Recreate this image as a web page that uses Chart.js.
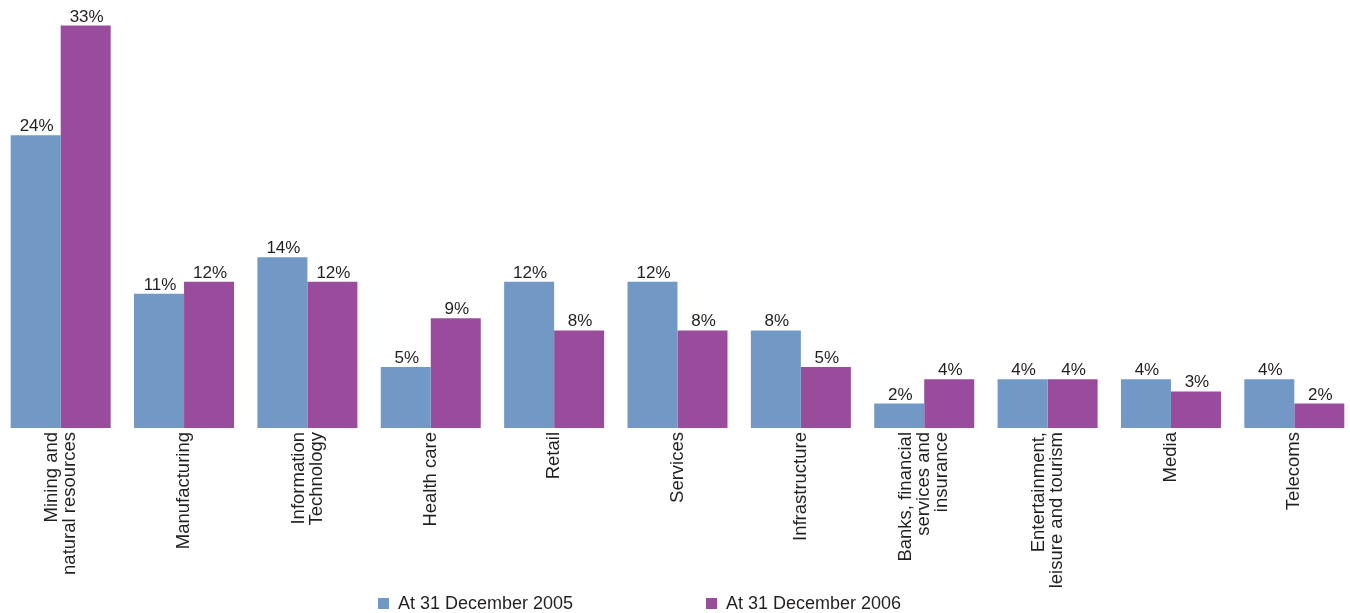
<!DOCTYPE html>
<html>
<head>
<meta charset="utf-8">
<title>Sector breakdown</title>
<script src="https://cdn.jsdelivr.net/npm/chart.js@4.4.1/dist/chart.umd.min.js"></script>
<style>
  html, body { margin: 0; padding: 0; background: #fff; overflow: hidden; }
  #wrap { position: absolute; left: -1px; top: 0; width: 1357px; height: 613px; }
</style>
</head>
<body>
<div id="wrap"><canvas id="sector-chart"></canvas></div>
<script>
const sectors = [
  ['Mining and', 'natural resources'],
  ['Manufacturing'],
  ['Information', 'Technology'],
  ['Health care'],
  ['Retail'],
  ['Services'],
  ['Infrastructure'],
  ['Banks, financial', 'services and', 'insurance'],
  ['Entertainment,', 'leisure and tourism'],
  ['Media'],
  ['Telecoms'],
];
const share2005 = [24, 11, 14, 5, 12, 12, 8, 2, 4, 4, 4];
const share2006 = [33, 12, 12, 9, 8, 8, 5, 4, 4, 3, 2];
const seriesNames = ['At 31 December 2005', 'At 31 December 2006'];

const FONT = '"Liberation Sans", Arial, Helvetica, sans-serif';
const TEXT = '#231f20';

// value labels above bars, rotated sector names and the legend row
const annotate = {
  id: 'annotate',
  afterDatasetsDraw(chart) {
    const { ctx } = chart;
    ctx.save();
    ctx.font = '17px ' + FONT;
    ctx.fillStyle = TEXT;
    ctx.textAlign = 'center';
    ctx.textBaseline = 'alphabetic';
    chart.data.datasets.forEach((ds, d) => {
      chart.getDatasetMeta(d).data.forEach((bar, i) => {
        ctx.fillText(ds.data[i] + '%', bar.x + 1, bar.y - 4);
      });
    });
    ctx.restore();
  },
  afterDraw(chart) {
    const { ctx } = chart;
    const xScale = chart.scales.x;
    const top = chart.chartArea.bottom + 4;
    const lh = 18;
    ctx.save();
    ctx.font = '18.5px ' + FONT;
    ctx.fillStyle = TEXT;
    ctx.textAlign = 'right';
    ctx.textBaseline = 'middle';
    sectors.forEach((lines, i) => {
      const x = xScale.getPixelForValue(i);
      ctx.save();
      ctx.translate(x, top);
      ctx.rotate(-Math.PI / 2);
      lines.forEach((line, j) => {
        ctx.fillText(line, 0, (j - (lines.length - 1) / 2) * lh);
      });
      ctx.restore();
    });

    // legend
    const legendX = [379, 707];
    const legendY = 604;
    ctx.font = '18px ' + FONT;
    ctx.textAlign = 'left';
    chart.data.datasets.forEach((ds, d) => {
      ctx.fillStyle = ds.backgroundColor;
      ctx.fillRect(legendX[d], legendY - 6, 11, 11);
      ctx.fillStyle = TEXT;
      ctx.fillText(ds.label, legendX[d] + 20, legendY);
    });
    ctx.restore();
  },
};

const sectorChart = new Chart(document.getElementById('sector-chart'), {
  type: 'bar',
  data: {
    labels: sectors,
    datasets: [
      { label: seriesNames[0], data: share2005, backgroundColor: '#7299c6' },
      { label: seriesNames[1], data: share2006, backgroundColor: '#9a4c9c' },
    ],
  },
  options: {
    responsive: true,
    maintainAspectRatio: false,
    animation: false,
    layout: { padding: 0 },
    categoryPercentage: 0.8106,
    barPercentage: 1,
    plugins: {
      legend: { display: false },
      tooltip: { enabled: false },
    },
    scales: {
      x: {
        grid: { display: false, drawTicks: false },
        border: { display: false },
        ticks: { display: false },
        afterFit(scale) { scale.height = 185; },
      },
      y: {
        display: false,
        min: 0,
        max: 35.1,
      },
    },
  },
  plugins: [annotate],
});
sectorChart.update();
</script>
</body>
</html>
